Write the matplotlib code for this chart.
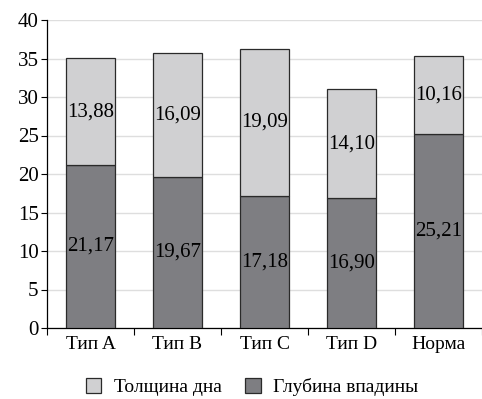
import matplotlib.pyplot as plt
from matplotlib.patches import Patch
from matplotlib.ticker import FixedLocator, NullFormatter

categories = ["Тип A", "Тип B", "Тип C", "Тип D", "Норма"]
depth = [21.17, 19.67, 17.18, 16.90, 25.21]
thickness = [13.88, 16.09, 19.09, 14.10, 10.16]
y_ticks = [0, 5, 10, 15, 20, 25, 30, 35, 40]

plt.rcParams["font.family"] = ["Liberation Serif", "DejaVu Serif"]
plt.rcParams["font.size"] = 14

light = "#d0d0d2"
dark = "#7e7e82"
edge = "#2a2a2a"

fig = plt.figure(figsize=(4.82, 3.99), dpi=100)
ax = fig.add_axes([47 / 482, 1 - 328 / 399, 435 / 482, 308 / 399])

x = range(len(categories))
width = 0.56
ax.bar(x, depth, width, color=dark, edgecolor=edge, linewidth=0.9, zorder=3)
ax.bar(x, thickness, width, bottom=depth, color=light, edgecolor=edge,
       linewidth=0.9, zorder=3)

# value labels in the middle of each segment, decimal comma
for i in x:
    ax.text(i, depth[i] / 2, f"{depth[i]:.2f}".replace(".", ","),
            ha="center", va="center", fontsize=15, zorder=4)
    ax.text(i, depth[i] + thickness[i] / 2, f"{thickness[i]:.2f}".replace(".", ","),
            ha="center", va="center", fontsize=15, zorder=4)

ax.set_xlim(-0.5, len(categories) - 0.5)
ax.set_ylim(0, 40)
ax.set_yticks(y_ticks)
ax.tick_params(axis="y", direction="out", length=4, width=0.8, labelsize=15, pad=2)
ax.yaxis.grid(True, color="#dedede", linewidth=1.0, zorder=0)
ax.set_axisbelow(True)

ax.set_xticks(list(x))
ax.set_xticklabels(categories, fontsize=14)
ax.tick_params(axis="x", which="major", length=0, pad=6)
ax.xaxis.set_minor_locator(FixedLocator([i - 0.5 for i in range(len(categories) + 1)]))
ax.xaxis.set_minor_formatter(NullFormatter())
ax.tick_params(axis="x", which="minor", direction="out", length=5, width=0.8)

for side in ("top", "right"):
    ax.spines[side].set_visible(False)
for side in ("left", "bottom"):
    ax.spines[side].set_linewidth(0.9)

handles = [
    Patch(facecolor=light, edgecolor=edge, linewidth=0.9, label="Толщина дна"),
    Patch(facecolor=dark, edgecolor=edge, linewidth=0.9, label="Глубина впадины"),
]
fig.legend(handles=handles, loc="center", bbox_to_anchor=(252 / 482, 1 - 387 / 399),
           ncol=2, frameon=False, fontsize=14, handlelength=0.8, handleheight=0.8,
           handletextpad=0.65, columnspacing=1.2, borderpad=0.1)

fig.savefig("out.png", dpi=100)
